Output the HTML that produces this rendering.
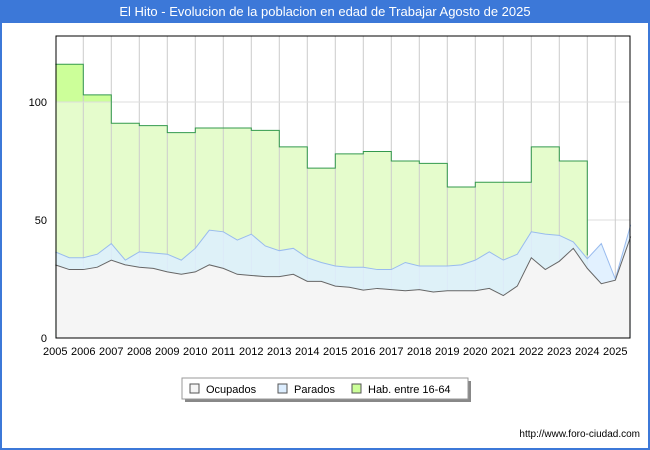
<!DOCTYPE html>
<html><head><meta charset="utf-8"><style>
body{margin:0;background:#fff;font-family:"Liberation Sans",sans-serif}
#wrap{position:relative;width:650px;height:450px;overflow:hidden}
</style></head><body>
<div id="wrap">
<svg id="svg" width="650" height="450" xmlns="http://www.w3.org/2000/svg">
<rect x="0" y="0" width="650" height="450" fill="#fff"/>
<rect x="1" y="1" width="648" height="448" fill="none" stroke="#3c78d8" stroke-width="2"/>
<rect x="0" y="0" width="650" height="23" fill="#3c78d8"/>
<text x="325" y="16" text-anchor="middle" font-size="13" fill="#fff">El Hito - Evolucion de la poblacion en edad de Trabajar Agosto de 2025</text>
<defs><clipPath id="habclip"><path id="habclipPath" d=""/></clipPath></defs>
<g id="plot"></g>
<g>
<rect x="185" y="381" width="286" height="21" fill="#888"/>
<rect x="182" y="378" width="286" height="21" fill="#fff" stroke="#999"/>
<rect x="190" y="384" width="9" height="9" fill="#f5f5f5" stroke="#555"/>
<text x="206" y="393" font-size="11" fill="#000">Ocupados</text>
<rect x="278" y="384" width="9" height="9" fill="#ddeeff" stroke="#555"/>
<text x="294" y="393" font-size="11" fill="#000">Parados</text>
<rect x="352" y="384" width="9" height="9" fill="#ccff99" stroke="#555"/>
<text x="368" y="393" font-size="11" fill="#000">Hab. entre 16-64</text>
</g>
<text x="640" y="437" text-anchor="end" font-size="10" fill="#000">http://www.foro-ciudad.com</text>
</svg>
</div>
<script>
const years=[2005,2006,2007,2008,2009,2010,2011,2012,2013,2014,2015,2016,2017,2018,2019,2020,2021,2022,2023,2024,2025];
const habValues=[116,103,91,90,87,89,89,88,81,72,78,79,75,74,64,66,66,81,75];
const times=[2005,2005.5,2006,2006.5,2007,2007.5,2008,2008.5,2009,2009.5,2010,2010.5,2011,2011.5,2012,2012.5,2013,2013.5,2014,2014.5,2015,2015.5,2016,2016.5,2017,2017.5,2018,2018.5,2019,2019.5,2020,2020.5,2021,2021.5,2022,2022.5,2023,2023.5,2024,2024.5,2025,2025.55];
const ocupados=[31,29,29,30,33,31,30,29.5,28,27,28,31,29.5,27,26.5,26,26,27,24,24,22,21.5,20.3,21,20.5,20,20.5,19.5,20,20,20,21,18,22,34,29,32.5,38,29.5,23,24.5,43];
const parados=[5.5,5,5,5.5,7,2,6.5,6.5,7.5,6,10,14.7,15.5,14.5,17.5,13,11,11,10,8,8.5,8.5,9.7,8,8.5,12,10,11,10.5,11,13,15.5,15,13.5,11,15,11,2.7,4.1,17,0.5,5];
const yTicks=[0,50,100];

const X0=55.3,XW=28,Y0=338,YS=2.36,L=56,R=630,T=36;
const xs=t=>X0+(t-2005)*XW;
const ys=v=>Y0-v*YS;
const NS='http://www.w3.org/2000/svg';
const g=document.getElementById('plot');
function mk(tag,attrs){const e=document.createElementNS(NS,tag);for(const k in attrs)e.setAttribute(k,attrs[k]);g.appendChild(e);return e;}

let bg=mk('rect',{x:L,y:T,width:R-L,height:Y0-T,fill:'#fff'});


yTicks.forEach(v=>{
  const l=mk('line',{x1:L,x2:R,y1:ys(v),y2:ys(v),stroke:'#ddd'});
  
  
  const t=mk('text',{x:47,y:ys(v)+4,'text-anchor':'end','font-size':'11',fill:'#000'});
  t.textContent=v;
  
  
});
years.forEach(y=>{
  const t=mk('text',{x:xs(y),y:355,'text-anchor':'middle','font-size':'11',fill:'#000'});
  t.textContent=y;
  
  
});

let hp=[];
habValues.forEach((v,i)=>{hp.push([xs(years[i]),ys(v)],[xs(years[i]+1),ys(v)]);});
const habPath='M'+hp.map(p=>p.join(',')).join(' L');
const endX=xs(years[habValues.length]);
const totals=ocupados.map((o,i)=>o+parados[i]);
const habArea='M'+xs(2005)+','+Y0+' L'+hp.map(p=>p.join(',')).join(' L')+' L'+endX+','+Y0+' Z';
document.getElementById('habclipPath').setAttribute('d',habArea);
let ha=mk('path',{d:habArea,fill:'#e5fccc'});


let hb=mk('rect',{x:L,y:T,width:R-L,height:ys(100)-T,fill:'#ccff99','clip-path':'url(#habclip)'});



years.slice(1).forEach(y=>{
  const l=mk('line',{x1:xs(y),x2:xs(y),y1:T,y2:Y0,stroke:'#ccc'});
  
  
});
let gl=mk('line',{x1:L,x2:R,y1:ys(100),y2:ys(100),stroke:'#ddd'});



const totPts=times.map((t,i)=>[xs(t),ys(totals[i])]);
const ocPts=times.map((t,i)=>[xs(t),ys(ocupados[i])]);
const line=p=>'M'+p.map(q=>q.join(',')).join(' L');
let ta=mk('path',{d:line(totPts)+' L'+xs(times[times.length-1])+','+Y0+' L'+xs(2005)+','+Y0+' Z',fill:'#ddeeff','fill-opacity':'0.85'});


let oa=mk('path',{d:line(ocPts)+' L'+xs(times[times.length-1])+','+Y0+' L'+xs(2005)+','+Y0+' Z',fill:'#f5f5f5'});


let hln=mk('path',{d:habPath+' L'+endX+','+ys(35),fill:'none',stroke:'#33994d','stroke-width':'1'});


let tl=mk('path',{d:line(totPts),fill:'none',stroke:'#99bbee','stroke-width':'1'});


let ol=mk('path',{d:line(ocPts),fill:'none',stroke:'#666','stroke-width':'1'});



let ax=mk('rect',{x:L,y:T,width:R-L,height:Y0-T,fill:'none',stroke:'#000'});


</script>
</body></html>
